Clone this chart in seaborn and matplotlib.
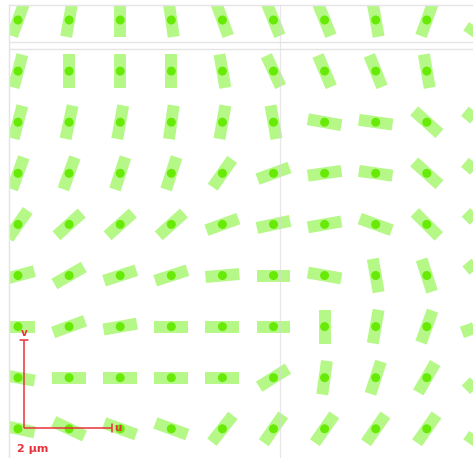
import numpy as np
import pandas as pd
import matplotlib
matplotlib.use("Agg")
import matplotlib.pyplot as plt
from matplotlib.collections import LineCollection
import seaborn as sns

# Orientation field: in-plane angle of each element (degrees, counter-clockwise
# from the u axis), rows listed top to bottom, columns left to right.
angle_row1 = [70, 80, 90, 98, 110, 112, 112, 100, 70, 55]
angle_row2 = [75, 90, 90, 90, 100, 115, 113, 112, 100, 80]
angle_row3 = [75, 78, 80, 82, 80, 100, -10, -8, -42, -40]
angle_row4 = [70, 70, 72, 72, 55, 20, 8, -8, -42, -40]
angle_row5 = [55, 42, 42, 42, 20, 12, 10, -20, -45, -45]
angle_row6 = [15, 30, 18, 18, 5, 0, -10, 100, 108, -50]
angle_row7 = [0, 20, 10, 0, 0, 0, 90, 80, 70, 20]
angle_row8 = [-10, 0, 0, 0, 0, 32, 82, 72, 60, 45]
angle_row9 = [-12, -25, -20, -20, 52, 55, 55, 55, 55, 55]

angle_rows = [angle_row1, angle_row2, angle_row3, angle_row4, angle_row5,
              angle_row6, angle_row7, angle_row8, angle_row9]

scale_label = "2 µm"
u_label = "u"
v_label = "v"

records = []
for r, row in enumerate(angle_rows):
    for c, a in enumerate(row):
        records.append({"col": c, "row": r, "angle": a})
df = pd.DataFrame(records)

# element geometry in grid units (one unit = grid pitch)
BAR_LEN = 0.665
BAR_LW_PT = 8.6
DOT_SIZE = 42

BAR_COLOR = "#b6f888"
DOT_COLOR = "#66ea06"
RED = "#e8323a"
FRAME = "#e4e4e4"

sns.set_style("white")
W, H = 473, 458
fig = plt.figure(figsize=(W / 100, H / 100), dpi=100)
fig.patch.set_facecolor("white")

left_px, top_px = 9, 5
ax = fig.add_axes([left_px / W, 0, (W - left_px) / W, (H - top_px) / H])
pitch = 51.1
x0_px, y0_px = 18, 20
ax.set_xlim((left_px - x0_px) / pitch, (W - x0_px) / pitch)
ax.set_ylim((H - y0_px) / pitch, (top_px - y0_px) / pitch)

# bars oriented by angle, centred on grid nodes
theta = np.deg2rad(df["angle"].to_numpy())
dx = np.cos(theta) * BAR_LEN / 2
dy = -np.sin(theta) * BAR_LEN / 2  # y axis points down
cx = df["col"].to_numpy(dtype=float)
cy = df["row"].to_numpy(dtype=float)
segs = np.stack([np.column_stack([cx - dx, cy - dy]),
                 np.column_stack([cx + dx, cy + dy])], axis=1)
bars = LineCollection(segs, colors=BAR_COLOR, linewidths=BAR_LW_PT,
                      capstyle="butt", zorder=2)
ax.add_collection(bars)

sns.scatterplot(data=df, x="col", y="row", color=DOT_COLOR, s=DOT_SIZE,
                edgecolor="none", linewidth=0, ax=ax, zorder=3, legend=False)

# light frame and guide lines of the viewer
for sp in ["bottom", "right"]:
    ax.spines[sp].set_visible(False)
for sp in ["left", "top"]:
    ax.spines[sp].set_color(FRAME)
    ax.spines[sp].set_linewidth(1.0)
ax.axhline((41.5 - y0_px) / pitch, color=FRAME, lw=1.0, zorder=1)
ax.axhline((48.5 - y0_px) / pitch, color=FRAME, lw=1.0, zorder=1)
ax.axvline((280 - x0_px) / pitch, color="#d8d8d8", lw=0.9, alpha=0.6, zorder=4)

ax.set_xticks([])
ax.set_yticks([])
ax.set_xlabel("")
ax.set_ylabel("")

# u/v axes and scale bar
ox, oy = (24 - x0_px) / pitch, (428 - y0_px) / pitch
blen = 1.72
ax.plot([ox, ox + blen], [oy, oy], color=RED, lw=1.1, zorder=5,
        solid_capstyle="butt")
ax.plot([ox, ox], [oy, oy - blen], color=RED, lw=1.1, zorder=5,
        solid_capstyle="butt")
tick = 0.07
ax.plot([ox + blen, ox + blen], [oy - tick, oy + tick], color=RED, lw=1.1, zorder=5)
ax.plot([ox - tick, ox + tick], [oy - blen, oy - blen], color=RED, lw=1.1, zorder=5)
ax.text(ox + blen + 0.04, oy, u_label, color=RED, fontsize=7.5,
        fontweight="bold", ha="left", va="center", zorder=6)
ax.text(ox, oy - blen - 0.04, v_label, color=RED, fontsize=7.5,
        fontweight="bold", ha="center", va="bottom", zorder=6)
ax.text((17 - x0_px) / pitch, (449 - y0_px) / pitch, scale_label, color=RED,
        fontsize=8, fontweight="bold", ha="left", va="center", zorder=6)

fig.savefig("out.png", dpi=100, facecolor="white")
